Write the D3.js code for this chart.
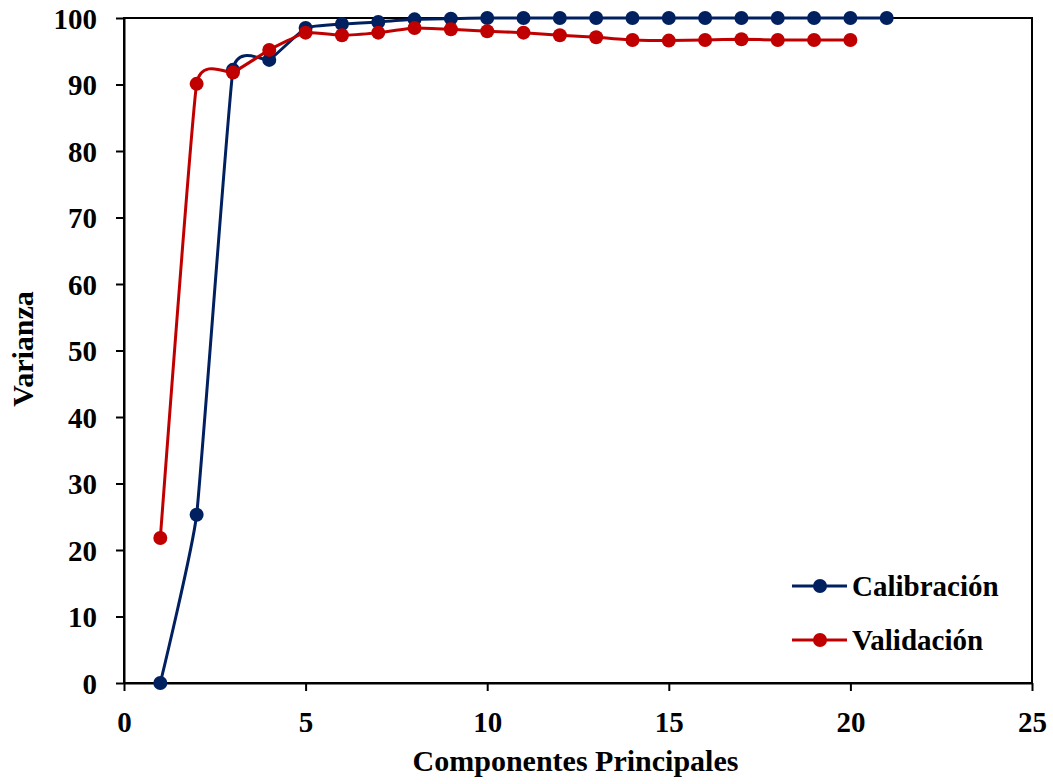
<!DOCTYPE html>
<html>
<head>
<meta charset="utf-8">
<script src="https://cdn.jsdelivr.net/npm/d3@7"></script>
<style>
  body { margin: 0; background: #fff; }
  text { font-family: "Liberation Serif", "Times New Roman", serif; font-weight: bold; }
</style>
</head>
<body>
<div class="chart"></div>
<script>
// data
const components = d3.range(1, 22);
const calibracion = [0, 25.3, 92.2, 93.7, 98.5, 99.1, 99.4, 99.8, 99.9, 100, 100, 100, 100, 100, 100, 100, 100, 100, 100, 100, 100];
const validacion = [21.8, 90.1, 91.8, 95.2, 97.8, 97.4, 97.8, 98.5, 98.3, 98.0, 97.8, 97.4, 97.1, 96.7, 96.6, 96.7, 96.8, 96.7, 96.7, 96.7];
const xTicks = [0, 5, 10, 15, 20, 25];
const yTicks = [0, 10, 20, 30, 40, 50, 60, 70, 80, 90, 100];

const series = [
  { name: "Calibración", color: "#002060", values: calibracion },
  { name: "Validación", color: "#C00000", values: validacion }
];

const w = 1053, h = 784;
const margin = { top: 18, right: 21, bottom: 101, left: 124 };
const width = w - margin.left - margin.right;
const height = h - margin.top - margin.bottom;

const svg = d3.select(".chart").append("svg")
  .attr("width", w)
  .attr("height", h)
  .append("g")
  .attr("transform", `translate(${margin.left},${margin.top})`);

const xScale = d3.scaleLinear().domain([0, 25]).range([0, width]);
const yScale = d3.scaleLinear().domain([0, 100]).range([height, 0]);

// frame
svg.append("rect")
  .attr("width", width)
  .attr("height", height)
  .attr("fill", "none")
  .attr("stroke", "#000")
  .attr("stroke-width", 2);

// axes
const xAxis = svg.append("g")
  .attr("transform", `translate(0,${height})`)
  .call(d3.axisBottom(xScale).tickValues(xTicks).tickSize(8).tickSizeOuter(0));
const yAxis = svg.append("g")
  .call(d3.axisLeft(yScale).tickValues(yTicks).tickSize(8).tickSizeOuter(0));

[xAxis, yAxis].forEach(a => {
  a.select(".domain").attr("stroke", "#000").attr("stroke-width", 2);
  a.selectAll(".tick line").attr("stroke", "#000").attr("stroke-width", 2);
  a.selectAll(".tick text")
    .attr("fill", "#000")
    .style("font-family", '"Liberation Serif", serif')
    .style("font-weight", "bold")
    .style("font-size", "29px");
});
xAxis.selectAll(".tick text").attr("y", 49).attr("dy", 0);
yAxis.selectAll(".tick text").attr("x", -27).attr("dy", "0.35em");

// axis titles
svg.append("text")
  .attr("x", (409 + 742) / 2 - margin.left)
  .attr("y", 771 - margin.top)
  .attr("text-anchor", "middle")
  .style("font-size", "30px")
  .text("Componentes Principales");

svg.append("text")
  .attr("transform", "rotate(-90)")
  .attr("x", -(349 - margin.top))
  .attr("y", 33 - margin.left)
  .attr("text-anchor", "middle")
  .style("font-size", "30px")
  .text("Varianza");

// lines + markers (smoothed like the spreadsheet original)
const line = d3.line()
  .x((d, i) => xScale(components[i]))
  .y(d => yScale(d))
  .curve(d3.curveCardinal.tension(0.65));

series.forEach(s => {
  svg.append("path")
    .datum(s.values)
    .attr("fill", "none")
    .attr("stroke", s.color)
    .attr("stroke-width", 3)
    .attr("d", line);

  svg.append("g").selectAll("circle")
    .data(s.values)
    .enter()
    .append("circle")
    .attr("cx", (d, i) => xScale(components[i]))
    .attr("cy", d => yScale(d))
    .attr("r", 7)
    .attr("fill", s.color);
});

// legend
const legend = svg.append("g").attr("transform", `translate(${792 - margin.left},${586 - margin.top})`);
series.forEach((s, i) => {
  const g = legend.append("g").attr("transform", `translate(0,${i * 54})`);
  g.append("line").attr("x1", 0).attr("x2", 55).attr("stroke", s.color).attr("stroke-width", 3);
  g.append("circle").attr("cx", 28).attr("r", 7).attr("fill", s.color);
  g.append("text")
    .attr("x", 60)
    .attr("dy", "0.35em")
    .style("font-size", "29px")
    .text(s.name);
});
</script>
</body>
</html>
